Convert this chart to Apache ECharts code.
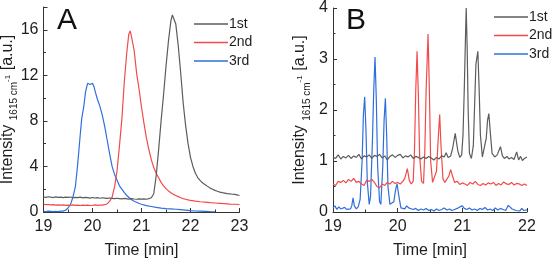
<!DOCTYPE html>
<html>
<head>
<meta charset="utf-8">
<script src="https://cdn.jsdelivr.net/npm/echarts@6/dist/echarts.min.js"></script>
<style>
  html, body { margin: 0; padding: 0; background: #fff; }
  #chart { width: 552px; height: 260px; }
</style>
</head>
<body>
<div id="chart"></div>
<script>
var chart = echarts.init(document.getElementById('chart'));

var seriesNames = ['1st', '2nd', '3rd'];
var seriesColors = ['#5c5c5c', '#f24a4a', '#2f6fdc'];

// panel A  [time, intensity]
var a1st = [[19.00,1.32],[19.05,1.28],[19.10,1.34],[19.15,1.30],[19.20,1.27],[19.25,1.33],[19.30,1.29],[19.35,1.31],[19.40,1.26],[19.45,1.30],
  [19.50,1.28],[19.55,1.32],[19.60,1.25],[19.65,1.29],[19.70,1.27],[19.75,1.30],[19.80,1.24],[19.85,1.28],[19.90,1.26],[19.95,1.22],
  [20.00,1.27],[20.05,1.23],[20.10,1.26],[20.15,1.21],[20.20,1.25],[20.25,1.22],[20.30,1.19],[20.35,1.23],[20.40,1.20],[20.45,1.17],
  [20.50,1.21],[20.55,1.18],[20.60,1.15],[20.65,1.19],[20.70,1.16],[20.75,1.13],[20.80,1.17],[20.85,1.14],[20.90,1.12],[20.95,1.16],
  [21.00,1.13],[21.05,1.15],[21.10,1.12],[21.15,1.18],[21.20,1.25],[21.25,1.6],[21.30,3.2],[21.35,5.5],[21.40,8.0],[21.45,10.3],
  [21.50,12.8],[21.55,15.0],[21.60,16.8],[21.63,17.3],[21.66,17.2],[21.70,16.5],[21.75,14.6],[21.80,12.2],[21.85,9.6],[21.90,7.6],
  [21.95,6.0],[22.00,4.8],[22.05,4.0],[22.10,3.4],[22.15,3.0],[22.20,2.75],[22.25,2.55],[22.30,2.4],[22.35,2.25],[22.40,2.1],
  [22.45,2.0],[22.50,1.9],[22.55,1.82],[22.60,1.75],[22.65,1.7],[22.70,1.66],[22.75,1.62],[22.80,1.6],[22.85,1.56],[22.90,1.55],
  [22.95,1.5],[23.00,1.45]];
var a2nd = [[19.00,0.68],[19.05,0.64],[19.10,0.66],[19.15,0.62],[19.20,0.65],[19.25,0.61],[19.30,0.63],[19.35,0.60],[19.40,0.62],[19.45,0.58],
  [19.50,0.61],[19.55,0.59],[19.60,0.62],[19.65,0.58],[19.70,0.60],[19.75,0.57],[19.80,0.60],[19.85,0.58],[19.90,0.61],[19.95,0.57],
  [20.00,0.59],[20.05,0.62],[20.10,0.58],[20.15,0.61],[20.20,0.60],[20.25,0.64],[20.30,0.72],[20.35,0.95],[20.40,1.3],[20.45,2.2],
  [20.50,3.6],[20.55,5.8],[20.60,8.2],[20.65,11.5],[20.70,14.0],[20.74,15.6],[20.77,15.9],[20.80,15.3],[20.85,14.2],[20.90,12.2],
  [20.95,10.8],[21.00,9.2],[21.05,7.8],[21.10,6.5],[21.15,5.5],[21.20,4.6],[21.25,3.9],[21.30,3.4],[21.35,3.0],[21.40,2.6],
  [21.45,2.3],[21.50,2.05],[21.55,1.85],[21.60,1.7],[21.65,1.55],[21.70,1.45],[21.75,1.35],[21.80,1.25],[21.85,1.18],[21.90,1.12],
  [21.95,1.06],[22.00,1.02],[22.10,0.95],[22.20,0.9],[22.30,0.86],[22.40,0.82],[22.50,0.79],[22.60,0.76],[22.70,0.73],[22.80,0.7],
  [22.90,0.68],[23.00,0.66]];
var a3rd = [[19.00,0.06],[19.05,0.04],[19.10,0.07],[19.15,0.05],[19.20,0.03],[19.25,0.06],[19.30,0.04],[19.35,0.07],[19.40,0.08],[19.45,0.15],
  [19.50,0.35],[19.55,0.65],[19.60,1.3],[19.65,2.2],[19.70,4.3],[19.75,6.8],[19.78,8.2],[19.82,9.2],[19.86,10.6],[19.90,11.3],
  [19.95,11.2],[20.00,11.3],[20.03,11.0],[20.06,10.5],[20.10,9.9],[20.15,9.3],[20.20,8.5],[20.25,7.5],[20.30,6.3],[20.35,5.1],
  [20.40,4.0],[20.45,3.3],[20.50,2.8],[20.55,2.3],[20.60,2.0],[20.65,1.7],[20.70,1.45],[20.75,1.25],[20.80,1.08],[20.85,0.95],
  [20.90,0.85],[20.95,0.75],[21.00,0.68],[21.10,0.56],[21.20,0.48],[21.30,0.4],[21.40,0.34],[21.50,0.3],[21.60,0.27],[21.70,0.24],
  [21.80,0.2],[21.90,0.16],[22.00,0.12],[22.10,0.09],[22.20,0.07],[22.30,0.05],[22.40,0.03],[22.50,0.02]];

// panel B  [time, intensity]
var b1st = [[19.00,1.08],[19.04,1.05],[19.08,1.12],[19.12,1.04],[19.16,1.09],[19.20,1.06],[19.24,1.11],[19.28,1.05],[19.32,1.10],[19.36,1.07],
  [19.40,1.13],[19.44,1.04],[19.48,1.10],[19.52,1.08],[19.56,1.12],[19.60,1.05],[19.64,1.11],[19.68,1.09],[19.72,1.13],[19.76,1.06],
  [19.80,1.10],[19.84,1.02],[19.88,1.09],[19.92,1.12],[19.96,1.07],[20.00,1.11],[20.04,1.13],[20.08,1.06],[20.12,1.10],[20.16,1.08],
  [20.20,1.12],[20.24,1.05],[20.28,1.09],[20.32,1.07],[20.36,1.04],[20.40,1.08],[20.44,1.05],[20.48,1.09],[20.52,1.06],[20.56,1.02],
  [20.60,1.07],[20.64,1.04],[20.68,1.10],[20.72,1.08],[20.75,1.16],[20.78,1.07],[20.82,1.10],[20.85,1.25],[20.89,1.54],[20.93,1.20],
  [20.96,1.07],[20.99,1.12],[21.01,1.5],[21.03,2.4],[21.05,3.5],[21.06,4.0],[21.075,3.2],[21.09,2.0],[21.11,1.15],[21.14,1.05],
  [21.17,1.3],[21.19,2.1],[21.21,2.9],[21.24,3.15],[21.26,2.4],[21.28,1.5],[21.31,1.08],[21.34,1.1],[21.37,1.45],[21.39,1.8],
  [21.41,1.93],[21.43,1.6],[21.46,1.15],[21.50,1.08],[21.54,1.12],[21.57,1.22],[21.59,1.28],[21.62,1.10],[21.65,1.05],[21.69,1.09],
  [21.72,1.04],[21.76,1.07],[21.80,1.03],[21.84,1.18],[21.87,1.02],[21.90,1.09],[21.93,1.01],[21.96,1.05],[22.00,1.08]];
var b2nd = [[19.00,0.55],[19.04,0.52],[19.08,0.60],[19.12,0.58],[19.16,0.62],[19.20,0.57],[19.24,0.64],[19.28,0.60],[19.32,0.66],[19.36,0.58],
  [19.40,0.60],[19.44,0.55],[19.48,0.52],[19.52,0.62],[19.56,0.60],[19.60,0.64],[19.64,0.58],[19.68,0.50],[19.72,0.47],[19.76,0.55],
  [19.80,0.52],[19.84,0.58],[19.88,0.55],[19.92,0.60],[19.96,0.56],[20.00,0.58],[20.04,0.55],[20.08,0.60],[20.11,0.66],[20.15,0.85],
  [20.18,0.62],[20.21,0.55],[20.24,0.60],[20.26,1.2],[20.28,2.4],[20.30,3.15],[20.32,2.3],[20.34,1.1],[20.37,0.60],[20.40,0.56],
  [20.42,1.2],[20.44,2.4],[20.47,3.49],[20.49,2.4],[20.51,1.0],[20.54,0.58],[20.57,0.60],[20.60,0.8],[20.63,1.5],[20.65,1.91],
  [20.67,1.3],[20.70,0.65],[20.73,0.58],[20.76,0.60],[20.79,0.70],[20.82,0.83],[20.85,0.70],[20.88,0.58],[20.92,0.60],[20.96,0.54],
  [21.00,0.57],[21.04,0.55],[21.08,0.52],[21.12,0.58],[21.16,0.55],[21.20,0.60],[21.24,0.54],[21.28,0.52],[21.32,0.56],[21.36,0.53],
  [21.40,0.57],[21.44,0.55],[21.48,0.58],[21.52,0.52],[21.56,0.56],[21.60,0.53],[21.64,0.59],[21.68,0.55],[21.72,0.54],[21.76,0.58],
  [21.80,0.53],[21.84,0.56],[21.88,0.55],[21.92,0.52],[21.96,0.55],[22.00,0.52]];
var b3rd = [[19.00,0.08],[19.03,0.12],[19.06,0.05],[19.09,0.10],[19.12,0.06],[19.15,0.04],[19.18,0.09],[19.21,0.05],[19.24,0.08],[19.27,0.06],
  [19.29,0.12],[19.31,0.28],[19.33,0.12],[19.36,0.06],[19.39,0.10],[19.42,0.25],[19.45,1.0],[19.47,1.9],[19.49,2.26],[19.51,1.6],
  [19.53,0.6],[19.56,0.15],[19.58,0.3],[19.61,1.4],[19.63,2.4],[19.65,3.04],[19.67,2.2],[19.69,0.9],[19.72,0.2],[19.74,0.15],
  [19.77,0.9],[19.79,1.8],[19.81,2.23],[19.83,1.5],[19.85,0.5],[19.88,0.15],[19.91,0.12],[19.94,0.2],[19.97,0.45],[19.99,0.55],
  [20.02,0.3],[20.05,0.08],[20.08,0.10],[20.11,0.06],[20.14,0.12],[20.17,0.08],[20.20,0.10],[20.24,0.05],[20.28,0.07],[20.32,0.03],
  [20.36,0.06],[20.40,0.04],[20.44,0.07],[20.48,0.03],[20.52,0.05],[20.56,0.02],[20.60,0.06],[20.64,0.03],[20.68,0.05],[20.72,0.08],
  [20.76,0.04],[20.80,0.06],[20.84,0.03],[20.88,0.05],[20.92,0.07],[20.96,0.10],[21.00,0.12],[21.03,0.07],[21.07,0.05],[21.11,0.08],
  [21.15,0.04],[21.19,0.06],[21.23,0.03],[21.27,0.07],[21.31,0.05],[21.35,0.09],[21.39,0.04],[21.43,0.06],[21.47,0.03],[21.51,0.08],
  [21.55,0.04],[21.59,0.07],[21.63,0.05],[21.67,0.03],[21.71,0.13],[21.74,0.10],[21.77,0.06],[21.80,0.08],[21.83,0.03],[21.86,0.06],
  [21.89,0.02],[21.92,0.07],[21.95,0.03],[21.98,0.06],[22.00,0.04]];

var FONT = 'Liberation Sans';
var TXT = '#1e1e1e';

function xAxisOf(grid, min, max) {
  return {
    type: 'value', gridIndex: grid, min: min, max: max, interval: 1,
    name: 'Time [min]', nameLocation: 'middle', nameGap: 31,
    nameTextStyle: { fontFamily: FONT, fontSize: 16, color: TXT },
    axisLine: { lineStyle: { color: '#333', width: 1 } },
    axisTick: { inside: true, length: 4, lineStyle: { color: '#333' } },
    minorTick: { show: true, splitNumber: 2, length: 2.5, lineStyle: { color: '#333' } },
    axisLabel: { fontFamily: FONT, fontSize: 16, color: TXT, margin: 7 },
    splitLine: { show: false }
  };
}
function yAxisOf(grid, max, interval, gap) {
  return {
    type: 'value', gridIndex: grid, min: 0, max: max, interval: interval,
    name: '{a|Intensity }{s|1615 cm}{p|-1}{a| [a.u.]}',
    nameLocation: 'middle', nameGap: gap, nameMoveOverlap: false,
    nameTextStyle: {
      fontFamily: FONT, color: TXT,
      rich: {
        a: { fontFamily: FONT, fontSize: 16, color: TXT, lineHeight: 24, verticalAlign: 'middle' },
        s: { fontFamily: FONT, fontSize: 10, color: TXT, lineHeight: 12, verticalAlign: 'bottom' },
        p: { fontFamily: FONT, fontSize: 8, color: TXT, lineHeight: 10, verticalAlign: 'middle' }
      }
    },
    axisLine: { show: true, lineStyle: { color: '#333', width: 1 } },
    axisTick: { show: true, inside: true, length: 4, lineStyle: { color: '#333' } },
    minorTick: { show: true, splitNumber: 2, length: 2.5, lineStyle: { color: '#333' } },
    axisLabel: { fontFamily: FONT, fontSize: 16, color: TXT, margin: 5, showMaxLabel: max === 4 },
    splitLine: { show: false }
  };
}
function legendOf(left, top) {
  return {
    orient: 'vertical', left: left, top: top, padding: 0,
    icon: 'rect', itemWidth: 34, itemHeight: 1.5, itemGap: 2.5,
    data: seriesNames,
    textStyle: { fontFamily: FONT, fontSize: 14, color: TXT, lineHeight: 16, padding: [0, 0, 0, -4] }
  };
}

var panelData = [[a1st, a2nd, a3rd], [b1st, b2nd, b3rd]];
var series = [];
panelData.forEach(function (list, p) {
  list.forEach(function (d, i) {
    series.push({
      name: seriesNames[i], type: 'line', xAxisIndex: p, yAxisIndex: p,
      data: d, symbol: 'none', smooth: false,
      lineStyle: { color: seriesColors[i], width: 1.2 },
      itemStyle: { color: seriesColors[i] },
      z: 3 - i
    });
  });
});

var option = {
  backgroundColor: '#fff',
  animation: false,
  title: [
    { text: 'A', left: 57, top: 6, padding: 0, textStyle: { fontFamily: FONT, fontSize: 30, fontWeight: 'normal', color: '#111' } },
    { text: 'B', left: 346, top: 6, padding: 0, textStyle: { fontFamily: FONT, fontSize: 30, fontWeight: 'normal', color: '#111' } }
  ],
  legend: [legendOf(194, 16), legendOf(494, 9)],
  grid: [
    { left: 43.5, top: 7, width: 196, height: 205, outerBoundsMode: 'none' },
    { left: 333, top: 8, width: 194, height: 204, outerBoundsMode: 'none' }
  ],
  xAxis: [xAxisOf(0, 19, 23), xAxisOf(1, 19, 22)],
  yAxis: [yAxisOf(0, 18, 4, 24), yAxisOf(1, 4, 1, 21)],
  series: series
};

chart.setOption(option);
</script>
</body>
</html>
